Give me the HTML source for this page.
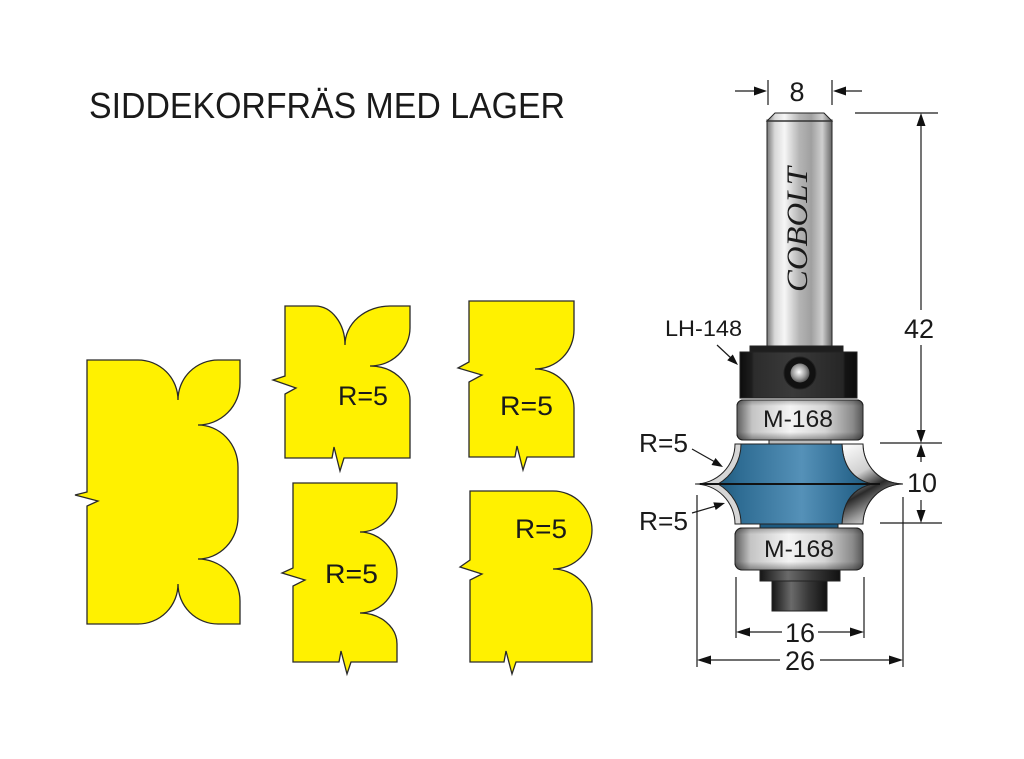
<!DOCTYPE html>
<html><head><meta charset="utf-8"><style>
html,body{margin:0;padding:0;background:#fff;}
svg{display:block;}
text{font-family:"Liberation Sans",sans-serif;fill:#1a1a1a;}
</style></head><body>
<svg width="1024" height="759" viewBox="0 0 1024 759" xmlns="http://www.w3.org/2000/svg">
<defs>
<linearGradient id="shank" gradientUnits="userSpaceOnUse" x1="767" y1="0" x2="832" y2="0">
<stop offset="0" stop-color="#777"/><stop offset="0.12" stop-color="#d8d8d8"/><stop offset="0.27" stop-color="#f6f6f6"/><stop offset="0.5" stop-color="#b4b4b4"/><stop offset="0.68" stop-color="#a0a0a0"/><stop offset="0.85" stop-color="#cfcfcf"/><stop offset="1" stop-color="#666"/>
</linearGradient>
<linearGradient id="brg" x1="0" y1="0" x2="1" y2="0">
<stop offset="0" stop-color="#5e5e5e"/><stop offset="0.12" stop-color="#c4c4c4"/><stop offset="0.42" stop-color="#f4f4f4"/><stop offset="0.7" stop-color="#d4d4d4"/><stop offset="0.92" stop-color="#8a8a8a"/><stop offset="1" stop-color="#555"/>
</linearGradient>
<linearGradient id="brgv" x1="0" y1="0" x2="0" y2="1">
<stop offset="0" stop-color="#000" stop-opacity="0.25"/><stop offset="0.15" stop-color="#000" stop-opacity="0"/><stop offset="0.8" stop-color="#000" stop-opacity="0"/><stop offset="1" stop-color="#000" stop-opacity="0.35"/>
</linearGradient>
<linearGradient id="blk" x1="0" y1="0" x2="1" y2="0">
<stop offset="0" stop-color="#0c0c0c"/><stop offset="0.1" stop-color="#1e1e1e"/><stop offset="0.12" stop-color="#2c2c2c"/><stop offset="0.45" stop-color="#3a3a3a"/><stop offset="0.88" stop-color="#262626"/><stop offset="0.9" stop-color="#141414"/><stop offset="1" stop-color="#0c0c0c"/>
</linearGradient>
<radialGradient id="screw" cx="0.45" cy="0.45" r="0.6">
<stop offset="0" stop-color="#fff"/><stop offset="0.6" stop-color="#999"/><stop offset="1" stop-color="#444"/>
</radialGradient>
<linearGradient id="dark" x1="0" y1="0" x2="1" y2="0">
<stop offset="0" stop-color="#151515"/><stop offset="0.35" stop-color="#6a6a6a"/><stop offset="0.65" stop-color="#3a3a3a"/><stop offset="1" stop-color="#111"/>
</linearGradient>
<linearGradient id="blue" gradientUnits="userSpaceOnUse" x1="716" y1="0" x2="872" y2="0">
<stop offset="0" stop-color="#1f5878"/><stop offset="0.15" stop-color="#2e6c93"/><stop offset="0.55" stop-color="#5591b8"/><stop offset="0.85" stop-color="#2d6a91"/><stop offset="1" stop-color="#1f5878"/>
</linearGradient>
<linearGradient id="flute" gradientUnits="userSpaceOnUse" x1="845" y1="448" x2="885" y2="520">
<stop offset="0" stop-color="#f8f8f8"/><stop offset="0.35" stop-color="#cfcfcf"/><stop offset="0.58" stop-color="#2a2a2a"/><stop offset="0.8" stop-color="#9a9a9a"/><stop offset="1" stop-color="#eaeaea"/>
</linearGradient>
</defs>

<!-- Title -->
<text x="89" y="118" font-size="36" textLength="476" lengthAdjust="spacingAndGlyphs">SIDDEKORFRÄS MED LAGER</text>

<!-- Yellow profiles -->
<g fill="#fff100" stroke="#2a2a2a" stroke-width="1.3" stroke-linejoin="miter">
<path d="M87,360 L138,360 A40,40 0 0 1 178,400 A40,40 0 0 1 218,360 L240,360 L240,383 A42,42 0 0 1 198,425 A40,42 0 0 1 238,467 L238,517 A40,42 0 0 1 198,559 A42,42 0 0 1 240,601 L240,624 L218,624 A40,40 0 0 1 178,584 A40,40 0 0 1 138,624 L87,624 L87,506 L98,501 L75,495 L87,492 Z"/>
<path d="M285,306 L315,306 A30,39 0 0 1 345,345 A45,39 0 0 1 390,306 L410,306 L410,328 A40,38 0 0 1 370,366 A40,34 0 0 1 410,400 L410,458 L344,458 L340,471 L334,447 L332,458 L285,458 L285,394 L296,388 L273,380 L285,376 Z"/>
<path d="M469,301 L574,301 L574,330 A39,39 0 0 1 535,369 A39,39 0 0 1 574,408 L574,457 L527,457 L523,470 L517,446 L515,457 L469,457 L469,382 L482,375 L458,368 L469,362 Z"/>
<path d="M293,483 L397,483 L397,494 A37,38 0 0 1 360,532 A37,40.5 0 0 1 360,613 A37,31 0 0 1 397,644 L397,662 L351,662 L347,674 L341,651 L339,662 L293,662 L293,586 L305,580 L282,573 L293,568 Z"/>
<path d="M470,491 L553,491 A39,39 0 0 1 553,569 A39,39 0 0 1 592,608 L592,662 L516,662 L512,674 L506,651 L504,662 L470,662 L470,580 L482,574 L460,567 L470,560 Z"/>
</g>
<g font-size="27">
<text x="338" y="405" textLength="50" lengthAdjust="spacingAndGlyphs">R=5</text>
<text x="500" y="415" textLength="53" lengthAdjust="spacingAndGlyphs">R=5</text>
<text x="325" y="583" textLength="53" lengthAdjust="spacingAndGlyphs">R=5</text>
<text x="515" y="538" textLength="52" lengthAdjust="spacingAndGlyphs">R=5</text>
</g>

<!-- Router bit -->
<g stroke="#222" stroke-width="1">
<!-- shank -->
<rect x="767" y="120" width="65" height="232" fill="url(#shank)"/>
<polygon points="767,121 775,113 824,113 832,121" fill="url(#shank)"/>
<line x1="767" y1="121" x2="832" y2="121" stroke="#333" stroke-width="1.5"/>
<!-- LH-148 block -->
<rect x="750" y="346" width="93" height="8" fill="#1e1e1e"/>
<rect x="740" y="352" width="117" height="46" fill="url(#blk)"/>
<circle cx="800" cy="373" r="16" fill="#111"/>
<circle cx="800" cy="373" r="9.5" fill="url(#screw)" stroke="none"/>
<!-- upper M-168 -->
<rect x="737" y="400" width="126" height="40" rx="6" fill="url(#brg)"/>
<rect x="737" y="400" width="126" height="40" rx="6" fill="url(#brgv)"/>
<rect x="769" y="440" width="62" height="5" fill="#bbb"/>
<!-- cutter -->
<path d="M735,444 L863,444 A40,40 0 0 0 903,484 A40,40 0 0 0 863,524 L735,524 A40,40 0 0 0 695,484 A40,40 0 0 0 735,444 Z" fill="#d6d6d6"/>
<path d="M842,444 L863,444 A40,40 0 0 0 903,484 A40,40 0 0 0 863,524 L842,524 C843,500 855,488 872,484 C855,480 843,468 842,444 Z" fill="url(#flute)"/>
<path d="M741,444 L842,444 C843,468 855,480 872,484 C855,488 843,500 842,524 L741,524 A46,46 0 0 0 718,484 A46,46 0 0 0 741,444 Z" fill="url(#blue)"/>
<line x1="700" y1="484" x2="880" y2="484" stroke="#111" stroke-width="2"/>
<rect x="760" y="524" width="78" height="4" fill="#1d5a80"/>
<!-- lower M-168 -->
<rect x="735" y="528" width="128" height="42" rx="7" fill="url(#brg)"/>
<rect x="735" y="528" width="128" height="42" rx="7" fill="url(#brgv)"/>
<rect x="760" y="570" width="80" height="11" fill="url(#dark)"/>
<rect x="772" y="581" width="55" height="30" fill="url(#dark)"/>
</g>
<text transform="translate(807,229.5) rotate(-90)" text-anchor="middle" font-size="30" font-style="italic" style="font-family:'Liberation Serif',serif;" textLength="125" lengthAdjust="spacingAndGlyphs">COBOLT</text>
<text x="798" y="427" text-anchor="middle" font-size="24" textLength="70" lengthAdjust="spacingAndGlyphs">M-168</text>
<text x="799" y="557" text-anchor="middle" font-size="24" textLength="70" lengthAdjust="spacingAndGlyphs">M-168</text>

<!-- Dimensions -->
<g stroke="#1a1a1a" stroke-width="1.2" fill="none">
<line x1="768" y1="80" x2="768" y2="105"/>
<line x1="832" y1="80" x2="832" y2="105"/>
<line x1="735" y1="91" x2="760" y2="91"/>
<line x1="840" y1="91" x2="862" y2="91"/>
<line x1="855" y1="113" x2="938" y2="113"/>
<line x1="921" y1="120" x2="921" y2="310"/>
<line x1="921" y1="345" x2="921" y2="436"/>
<line x1="880" y1="443" x2="942" y2="443"/>
<line x1="921" y1="450" x2="921" y2="462"/>
<line x1="921" y1="500" x2="921" y2="516"/>
<line x1="880" y1="523" x2="942" y2="523"/>
<line x1="697" y1="495" x2="697" y2="667"/>
<line x1="903" y1="497" x2="903" y2="667"/>
<line x1="736" y1="577" x2="736" y2="638"/>
<line x1="864" y1="577" x2="864" y2="638"/>
<line x1="740" y1="632" x2="782" y2="632"/>
<line x1="818" y1="632" x2="860" y2="632"/>
<line x1="700" y1="660" x2="780" y2="660"/>
<line x1="820" y1="660" x2="900" y2="660"/>
<line x1="717" y1="345" x2="732" y2="359"/>
<line x1="692" y1="449" x2="715" y2="462"/>
<line x1="692" y1="513" x2="716" y2="506"/>
</g>
<g fill="#111">
<polygon points="767,91 754,86.5 754,95.5"/>
<polygon points="833,91 846,86.5 846,95.5"/>
<polygon points="921,113 916.5,126 925.5,126"/>
<polygon points="921,443 916.5,430 925.5,430"/>
<polygon points="921,444 916.5,457 925.5,457"/>
<polygon points="921,523 916.5,510 925.5,510"/>
<polygon points="736,632 750,627.5 750,636.5"/>
<polygon points="864,632 850,627.5 850,636.5"/>
<polygon points="697,660 711,655.5 711,664.5"/>
<polygon points="903,660 889,655.5 889,664.5"/>
<polygon points="738,365 727.2,360.3 732.8,354.5"/>
<polygon points="723,467 711.5,465 715.5,458"/>
<polygon points="725,503 715.7,510 713.3,502.4"/>
</g>
<g font-size="27" text-anchor="middle">
<text x="797" y="101">8</text>
<text x="919" y="338">42</text>
<text x="922" y="492">10</text>
<text x="800" y="642">16</text>
<text x="800" y="670">26</text>
</g>
<g font-size="22">
<text x="665" y="336" textLength="77" lengthAdjust="spacingAndGlyphs">LH-148</text>
</g>
<g font-size="26">
<text x="639" y="452" textLength="49" lengthAdjust="spacingAndGlyphs">R=5</text>
<text x="639" y="530" textLength="49" lengthAdjust="spacingAndGlyphs">R=5</text>
</g>
</svg>
</body></html>
